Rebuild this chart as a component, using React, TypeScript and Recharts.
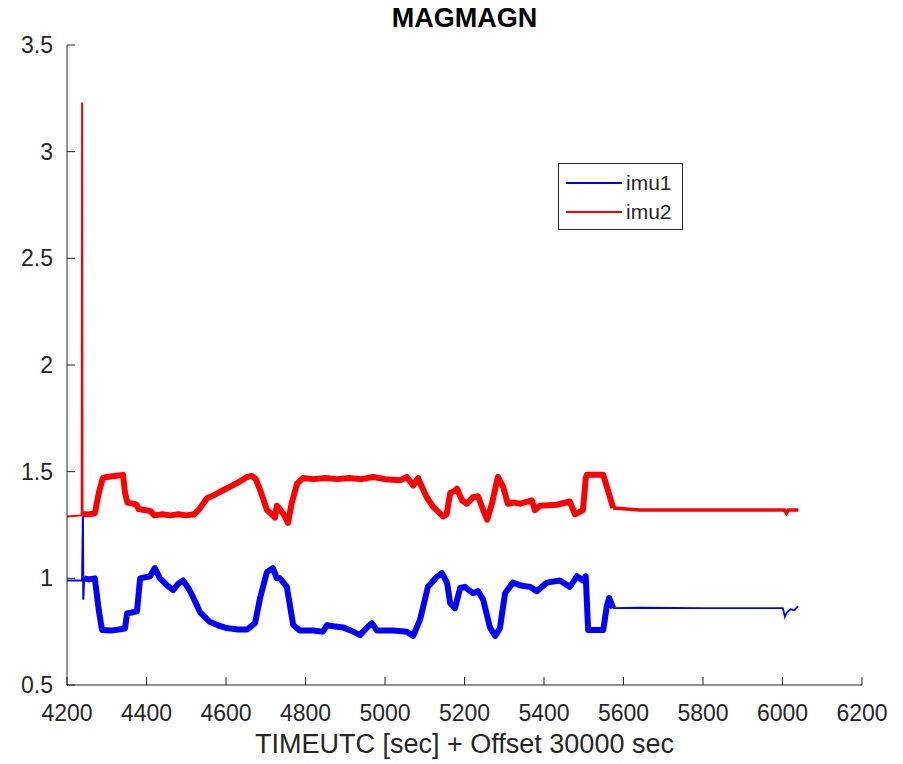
import { LineChart, Line, XAxis, YAxis } from 'recharts';

type Pt = { x: number; y: number };

const xTicks = [4200, 4400, 4600, 4800, 5000, 5200, 5400, 5600, 5800, 6000, 6200];
const yTicks = [0.5, 1, 1.5, 2, 2.5, 3, 3.5];

// imu2 (red): startup, noisy middle section, settled tail
const imu2Start: Pt[] = [
  { x: 4200, y: 1.29 }, { x: 4237, y: 1.295 }, { x: 4238, y: 3.23 }, { x: 4239, y: 1.3 },
];
const imu2Noisy: Pt[] = [
  { x: 4239, y: 1.3 }, { x: 4255, y: 1.3 }, { x: 4270, y: 1.305 }, { x: 4280, y: 1.4 },
  { x: 4290, y: 1.47 }, { x: 4300, y: 1.475 }, { x: 4320, y: 1.48 }, { x: 4341, y: 1.485 },
  { x: 4346, y: 1.4 }, { x: 4352, y: 1.355 }, { x: 4365, y: 1.35 }, { x: 4375, y: 1.345 },
  { x: 4380, y: 1.325 }, { x: 4395, y: 1.32 }, { x: 4410, y: 1.315 }, { x: 4420, y: 1.295 },
  { x: 4440, y: 1.3 }, { x: 4460, y: 1.295 }, { x: 4480, y: 1.3 }, { x: 4500, y: 1.295 },
  { x: 4520, y: 1.3 }, { x: 4535, y: 1.33 }, { x: 4552, y: 1.375 }, { x: 4570, y: 1.39 },
  { x: 4585, y: 1.405 }, { x: 4600, y: 1.42 }, { x: 4618, y: 1.437 }, { x: 4635, y: 1.455 },
  { x: 4653, y: 1.475 }, { x: 4665, y: 1.48 }, { x: 4675, y: 1.465 }, { x: 4686, y: 1.414 },
  { x: 4703, y: 1.32 }, { x: 4715, y: 1.3 }, { x: 4723, y: 1.285 }, { x: 4728, y: 1.34 },
  { x: 4735, y: 1.325 }, { x: 4745, y: 1.3 }, { x: 4756, y: 1.26 }, { x: 4765, y: 1.35 },
  { x: 4779, y: 1.445 }, { x: 4794, y: 1.47 }, { x: 4820, y: 1.465 }, { x: 4850, y: 1.47 },
  { x: 4880, y: 1.465 }, { x: 4910, y: 1.47 }, { x: 4940, y: 1.465 }, { x: 4970, y: 1.475 },
  { x: 5000, y: 1.465 }, { x: 5038, y: 1.46 }, { x: 5055, y: 1.475 }, { x: 5071, y: 1.435 },
  { x: 5083, y: 1.47 }, { x: 5095, y: 1.42 }, { x: 5105, y: 1.38 }, { x: 5121, y: 1.335 },
  { x: 5135, y: 1.31 }, { x: 5146, y: 1.29 }, { x: 5155, y: 1.3 }, { x: 5164, y: 1.4 },
  { x: 5175, y: 1.41 }, { x: 5181, y: 1.42 }, { x: 5194, y: 1.365 }, { x: 5206, y: 1.35 },
  { x: 5221, y: 1.38 }, { x: 5234, y: 1.385 }, { x: 5247, y: 1.32 }, { x: 5257, y: 1.275 },
  { x: 5269, y: 1.35 }, { x: 5284, y: 1.475 }, { x: 5297, y: 1.43 }, { x: 5309, y: 1.35 },
  { x: 5325, y: 1.355 }, { x: 5340, y: 1.35 }, { x: 5370, y: 1.365 }, { x: 5377, y: 1.32 },
  { x: 5390, y: 1.34 }, { x: 5432, y: 1.345 }, { x: 5465, y: 1.36 }, { x: 5478, y: 1.3 },
  { x: 5498, y: 1.32 }, { x: 5505, y: 1.47 }, { x: 5508, y: 1.485 }, { x: 5549, y: 1.485 },
  { x: 5558, y: 1.43 }, { x: 5574, y: 1.33 },
];
const imu2Tail: Pt[] = [
  { x: 5574, y: 1.33 }, { x: 5641, y: 1.32 }, { x: 5800, y: 1.32 }, { x: 5950, y: 1.32 },
  { x: 6005, y: 1.32 }, { x: 6010, y: 1.305 }, { x: 6015, y: 1.32 }, { x: 6040, y: 1.32 },
];

// imu1 (blue)
const imu1Start: Pt[] = [
  { x: 4200, y: 0.99 }, { x: 4238, y: 0.99 }, { x: 4240, y: 1.29 }, { x: 4241, y: 0.9 },
  { x: 4243, y: 1.0 },
];
const imu1Noisy: Pt[] = [
  { x: 4243, y: 1.0 }, { x: 4255, y: 0.995 }, { x: 4270, y: 1.0 }, { x: 4280, y: 0.85 },
  { x: 4288, y: 0.758 }, { x: 4310, y: 0.755 }, { x: 4330, y: 0.76 }, { x: 4346, y: 0.765 },
  { x: 4351, y: 0.835 }, { x: 4376, y: 0.845 }, { x: 4384, y: 1.0 }, { x: 4409, y: 1.01 },
  { x: 4421, y: 1.048 }, { x: 4434, y: 1.0 }, { x: 4450, y: 0.97 }, { x: 4467, y: 0.945 },
  { x: 4480, y: 0.975 }, { x: 4492, y: 0.99 }, { x: 4505, y: 0.955 }, { x: 4517, y: 0.913 },
  { x: 4535, y: 0.84 }, { x: 4560, y: 0.795 }, { x: 4580, y: 0.78 }, { x: 4602, y: 0.767 },
  { x: 4630, y: 0.76 }, { x: 4653, y: 0.76 }, { x: 4673, y: 0.79 }, { x: 4686, y: 0.91 },
  { x: 4703, y: 1.03 }, { x: 4718, y: 1.048 }, { x: 4728, y: 1.0 }, { x: 4736, y: 1.0 },
  { x: 4753, y: 0.96 }, { x: 4769, y: 0.781 }, { x: 4786, y: 0.755 }, { x: 4820, y: 0.755 },
  { x: 4844, y: 0.75 }, { x: 4854, y: 0.78 }, { x: 4870, y: 0.775 }, { x: 4894, y: 0.77 },
  { x: 4915, y: 0.755 }, { x: 4937, y: 0.734 }, { x: 4955, y: 0.77 }, { x: 4967, y: 0.79 },
  { x: 4980, y: 0.755 }, { x: 5020, y: 0.755 }, { x: 5055, y: 0.75 }, { x: 5071, y: 0.73 },
  { x: 5088, y: 0.805 }, { x: 5108, y: 0.96 }, { x: 5130, y: 1.006 }, { x: 5143, y: 1.025 },
  { x: 5156, y: 0.98 }, { x: 5164, y: 0.884 }, { x: 5176, y: 0.86 }, { x: 5189, y: 0.955 },
  { x: 5201, y: 0.96 }, { x: 5221, y: 0.93 }, { x: 5234, y: 0.94 }, { x: 5247, y: 0.9 },
  { x: 5264, y: 0.77 }, { x: 5277, y: 0.73 }, { x: 5289, y: 0.765 }, { x: 5302, y: 0.93 },
  { x: 5322, y: 0.98 }, { x: 5345, y: 0.965 }, { x: 5365, y: 0.96 }, { x: 5382, y: 0.94 },
  { x: 5407, y: 0.98 }, { x: 5440, y: 0.99 }, { x: 5465, y: 0.96 }, { x: 5483, y: 1.01 },
  { x: 5498, y: 0.99 }, { x: 5505, y: 1.01 }, { x: 5511, y: 0.758 }, { x: 5549, y: 0.758 },
  { x: 5558, y: 0.87 }, { x: 5564, y: 0.908 }, { x: 5574, y: 0.86 },
];
const imu1Tail: Pt[] = [
  { x: 5574, y: 0.86 }, { x: 5641, y: 0.862 }, { x: 5800, y: 0.86 }, { x: 5950, y: 0.86 },
  { x: 6001, y: 0.86 }, { x: 6006, y: 0.82 }, { x: 6011, y: 0.84 }, { x: 6020, y: 0.855 },
  { x: 6030, y: 0.85 }, { x: 6039, y: 0.87 },
];

const FONT = '"Liberation Sans", Arial, Helvetica, sans-serif';
const INK = '#262626';
const BLUE = '#0000ff';
const RED = '#ff0000';

function XTick(props: any) {
  const { x, y, payload } = props;
  return (
    <g>
      <line x1={x} x2={x} y1={y} y2={y - 8} stroke={INK} strokeWidth={1} />
      <text x={x} y={y + 36} textAnchor="middle" fontSize={23} fill={INK} fontFamily={FONT}>
        {payload.value}
      </text>
    </g>
  );
}

function YTick(props: any) {
  const { x, y, payload } = props;
  return (
    <g>
      <line x1={x} x2={x + 8} y1={y} y2={y} stroke={INK} strokeWidth={1} />
      <text x={x - 14} y={y + 8} textAnchor="end" fontSize={23} fill={INK} fontFamily={FONT}>
        {payload.value}
      </text>
    </g>
  );
}

function LegendBox() {
  const items = [
    { name: 'imu1', color: BLUE },
    { name: 'imu2', color: RED },
  ];
  return (
    <div
      style={{
        position: 'absolute',
        left: 558,
        top: 163,
        width: 123,
        height: 65,
        border: `1px solid ${INK}`,
        background: '#fff',
        fontFamily: FONT,
        fontSize: 21,
        color: INK,
      }}
    >
      {items.map((it, i) => (
        <div key={it.name} style={{ position: 'absolute', left: 7, top: 6 + i * 29, display: 'flex', alignItems: 'center' }}>
          <div style={{ width: 56, height: 2, background: it.color }} />
          <span style={{ marginLeft: 4, lineHeight: '26px' }}>{it.name}</span>
        </div>
      ))}
    </div>
  );
}

export default function App() {
  return (
    <div style={{ position: 'absolute', left: 0, top: 0, width: 903, height: 764, background: '#fff' }}>
      <div
        style={{
          position: 'absolute',
          left: 67,
          width: 795,
          top: 3,
          textAlign: 'center',
          fontFamily: FONT,
          fontWeight: 'bold',
          fontSize: 27,
          color: '#000',
        }}
      >
        MAGMAGN
      </div>
      <LineChart width={903} height={764} margin={{ top: 45, right: 41, bottom: 9, left: 7 }}>
        <XAxis
          type="number"
          dataKey="x"
          domain={[4200, 6200]}
          ticks={xTicks}
          allowDataOverflow
          height={70}
          tickSize={0}
          tickMargin={0}
          tickLine={false}
          tick={<XTick />}
          axisLine={{ stroke: INK, strokeWidth: 1 }}
          label={{
            value: 'TIMEUTC [sec] + Offset 30000 sec',
            position: 'insideBottom',
            offset: 2,
            fontSize: 27,
            fill: INK,
            fontFamily: FONT,
          }}
        />
        <YAxis
          type="number"
          domain={[0.5, 3.5]}
          ticks={yTicks}
          allowDataOverflow
          width={60}
          tickSize={0}
          tickMargin={0}
          tickLine={false}
          tick={<YTick />}
          axisLine={{ stroke: INK, strokeWidth: 1 }}
        />
        <Line data={imu2Start} dataKey="y" type="linear" stroke={RED} strokeWidth={2} dot={false} isAnimationActive={false} />
        <Line data={imu2Noisy} dataKey="y" type="linear" stroke={RED} strokeWidth={6} strokeLinejoin="round" dot={false} isAnimationActive={false} />
        <Line data={imu2Tail} dataKey="y" type="linear" stroke={RED} strokeWidth={3.5} dot={false} isAnimationActive={false} />
        <Line data={imu1Start} dataKey="y" type="linear" stroke={BLUE} strokeWidth={2} dot={false} isAnimationActive={false} />
        <Line data={imu1Noisy} dataKey="y" type="linear" stroke={BLUE} strokeWidth={6} strokeLinejoin="round" dot={false} isAnimationActive={false} />
        <Line data={imu1Tail} dataKey="y" type="linear" stroke={BLUE} strokeWidth={1.8} dot={false} isAnimationActive={false} />
      </LineChart>
      <LegendBox />
    </div>
  );
}
